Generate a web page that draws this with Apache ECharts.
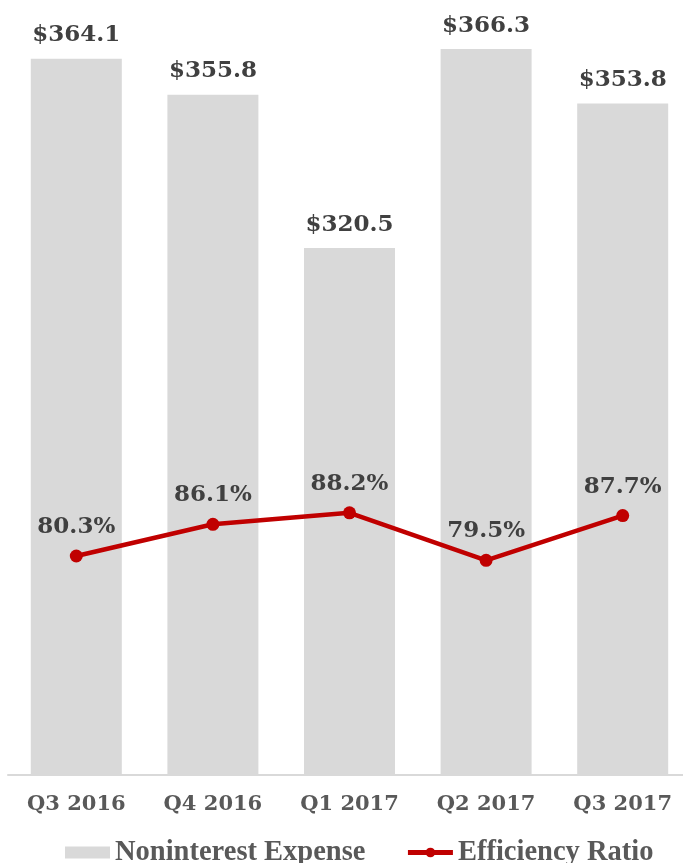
<!DOCTYPE html>
<html>
<head>
<meta charset="utf-8">
<script src="https://cdn.jsdelivr.net/npm/echarts@6/dist/echarts.min.js"></script>
<style>
  html, body { margin: 0; padding: 0; background: #ffffff; }
  #chart { width: 683px; height: 863px; }
</style>
</head>
<body>
<div id="chart"></div>
<script>
// Quarterly noninterest expense ($M) and efficiency ratio (%)
const quarters = ['Q3 2016', 'Q4 2016', 'Q1 2017', 'Q2 2017', 'Q3 2017'];
const nonInterestExpense = [364.1, 355.8, 320.5, 366.3, 353.8];
const efficiencyRatio = [80.3, 86.1, 88.2, 79.5, 87.7];

const labelFont = 'DejaVu Serif';
const chart = echarts.init(document.getElementById('chart'), null, { renderer: 'canvas' });

chart.setOption({
  backgroundColor: '#ffffff',
  animation: false,
  // plot area runs slightly past the right edge so the last bar sits near it
  grid: { left: 8, right: -8, top: 0, bottom: 88, containLabel: false, outerBoundsMode: 'none' },
  legend: {
    left: 65,
    top: 838,
    padding: 0,
    itemGap: 40,
    itemWidth: 45,
    itemHeight: 12,
    textStyle: {
      fontFamily: 'Liberation Serif',
      fontWeight: 'bold',
      fontSize: 28.5,
      color: '#595959'
    },
    data: [
      { name: 'Noninterest Expense', icon: 'rect' },
      { name: 'Efficiency Ratio', lineStyle: { width: 5, color: '#c00000' } }
    ]
  },
  xAxis: {
    type: 'category',
    data: quarters,
    axisLine: { show: true, lineStyle: { color: '#d9d9d9', width: 2 } },
    axisTick: { show: false },
    axisLabel: {
      margin: 19,
      fontFamily: labelFont,
      fontWeight: 'bold',
      fontSize: 21,
      color: '#595959'
    },
    splitLine: { show: false }
  },
  yAxis: [
    { type: 'value', min: 199.2, max: 377.6, show: false, splitLine: { show: false } },
    { type: 'value', min: 40.2, max: 182.1, show: false, splitLine: { show: false } }
  ],
  series: [
    {
      name: 'Noninterest Expense',
      type: 'bar',
      yAxisIndex: 0,
      data: nonInterestExpense,
      barWidth: 91,
      itemStyle: { color: '#d9d9d9' },
      label: {
        show: true,
        position: 'top',
        distance: 12,
        fontFamily: labelFont,
        fontWeight: 'bold',
        fontSize: 23,
        color: '#404040',
        formatter: p => '$' + p.value.toFixed(1)
      }
    },
    {
      name: 'Efficiency Ratio',
      type: 'line',
      yAxisIndex: 1,
      data: efficiencyRatio,
      symbol: 'circle',
      symbolSize: 13,
      lineStyle: { color: '#c00000', width: 4.5 },
      itemStyle: { color: '#c00000' },
      label: {
        show: true,
        position: 'top',
        distance: 11,
        fontFamily: labelFont,
        fontWeight: 'bold',
        fontSize: 23,
        color: '#404040',
        formatter: p => p.value.toFixed(1) + '%'
      },
      z: 3
    }
  ]
});
</script>
</body>
</html>
